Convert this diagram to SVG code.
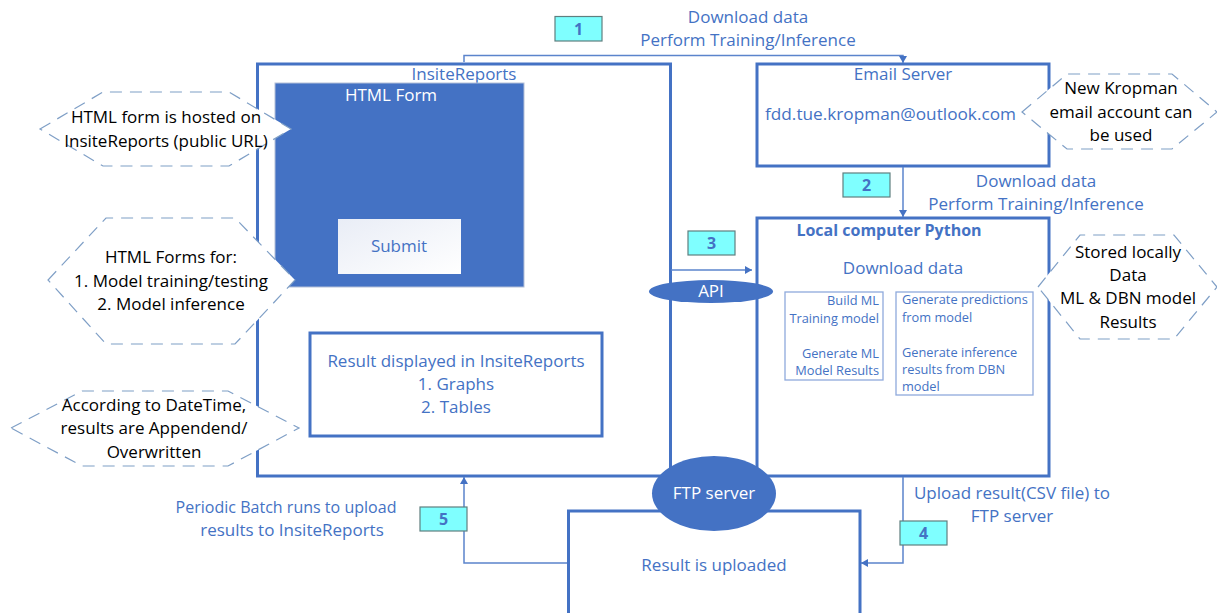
<svg xmlns="http://www.w3.org/2000/svg" width="1217" height="613" viewBox="0 0 1217 613">
<style>
text{font-family:"Open Sans","Noto Sans","Liberation Sans",sans-serif;font-size:17px;fill:#4472c4;text-anchor:middle}
.k{fill:#000}
.w{fill:#fff}
.s{font-size:12.800px}
.r{text-anchor:end}
.l{text-anchor:start}
.b{font-weight:700;font-size:16px}
.box{fill:#fff;stroke:#4472c4;stroke-width:3}
.thin{fill:#fff;stroke:#8faadc;stroke-width:1.3}
.hex{fill:#fff;stroke:#7f9fc6;stroke-width:1.2;stroke-dasharray:12 8}
.tag{fill:#7fffff;stroke:#5f7f7f;stroke-width:1.2}
.c{fill:none;stroke:#5b84cc;stroke-width:1.5}
.n{font-weight:700;font-size:16px}
</style>
<defs>
<marker id="a" markerWidth="8" markerHeight="8" refX="7" refY="4" orient="auto" markerUnits="userSpaceOnUse"><path d="M0 0L7 4L0 8z" fill="#4472c4"/></marker>
<linearGradient id="sub" x1="0" y1="0" x2="1" y2="1"><stop offset="0" stop-color="#e9edf6"/><stop offset="1" stop-color="#fff"/></linearGradient>
</defs>
<g id="insite"><rect class="box" x="257.500" y="64" width="413" height="412"/><text x="464" y="80">InsiteReports</text></g>
<g id="email"><rect class="box" x="757" y="64" width="292" height="102"/><text x="890.500" y="120" textLength="251" lengthAdjust="spacingAndGlyphs">fdd.tue.kropman@outlook.com</text><text x="903" y="80">Email Server</text></g>
<g id="local"><rect class="box" x="757" y="218" width="292" height="258"/><text x="889" y="236" class="b">Local computer Python</text><text x="903" y="274">Download data</text></g>
<g id="form"><rect x="275" y="83" width="249" height="204" fill="#4472c4" stroke="#b4c0d8" stroke-width="1"/><text class="w" x="391" y="101">HTML Form</text></g>
<g id="submit"><rect x="338" y="219" width="123" height="55" fill="url(#sub)"/><text x="399" y="252">Submit</text></g>
<g id="result-display"><rect class="box" x="310" y="333" width="292" height="103"/><text x="456" y="367">Result displayed in InsiteReports</text><text x="456" y="390">1. Graphs</text><text x="456" y="413">2. Tables</text></g>
<g id="build"><rect class="thin" x="785" y="292" width="98" height="88"/><text class="s r" x="879" y="305">Build ML</text><text class="s r" x="879" y="323">Training model</text><text class="s r" x="879" y="358">Generate ML</text><text class="s r" x="879" y="375">Model Results</text></g>
<g id="generate"><rect class="thin" x="896" y="292" width="137" height="103"/><text class="s l" x="902" y="304">Generate predictions</text><text class="s l" x="902" y="322">from model</text><text class="s l" x="902" y="357">Generate inference</text><text class="s l" x="902" y="374">results from DBN</text><text class="s l" x="902" y="391">model</text></g>
<g id="connectors">
<path class="c" d="M464 62V55.500H903V63" marker-end="url(#a)"/>
<path class="c" d="M903 167V217" marker-end="url(#a)"/>
<path class="c" d="M671 270H752" marker-end="url(#a)"/>
<path class="c" d="M903 477V563H861" marker-end="url(#a)"/>
<path class="c" d="M568 563H464V477" marker-end="url(#a)"/>
</g>
<g id="uploaded"><path class="box" d="M568.500 613V511H860V613"/><text x="714" y="571">Result is uploaded</text></g>
<g id="api"><ellipse cx="711" cy="291.500" rx="62" ry="11.500" fill="#4472c4"/><text class="w" x="711" y="297">API</text></g>
<g id="ftp"><ellipse cx="714" cy="493.500" rx="62" ry="37.500" fill="#4472c4"/><text class="w" x="714" y="499">FTP server</text></g>
<g id="hex1"><polygon class="hex" points="40,129 103,92 229,92 291,129 229,166 103,166"/><text class="k" x="166" y="123">HTML form is hosted on</text><text class="k" x="166" y="147">InsiteReports (public URL)</text></g>
<g id="hex2"><polygon class="hex" points="48,280 106,218 235,218 295,280 235,344 106,344"/><text class="k" x="171" y="263">HTML Forms for:</text><text class="k" x="171" y="287">1. Model training/testing</text><text class="k" x="171" y="310">2. Model inference</text></g>
<g id="hex3"><polygon class="hex" points="11,428 82,391 228,391 299,428 228,466 82,466"/><text class="k" x="154" y="411">According to DateTime,</text><text class="k" x="154" y="434">results are Appendend/</text><text class="k" x="154" y="458">Overwritten</text></g>
<g id="hex4"><polygon class="hex" points="1022,112 1067,74 1172,74 1217,112 1172,149 1067,149"/><text class="k" x="1121" y="94">New Kropman</text><text class="k" x="1121" y="118">email account can</text><text class="k" x="1121" y="141">be used</text></g>
<g id="hex5"><polygon class="hex" points="1038,287 1080,235 1174,235 1217,287 1174,339 1080,339"/><text class="k" x="1128" y="258">Stored locally</text><text class="k" x="1128" y="281">Data</text><text class="k" x="1128" y="304">ML &amp; DBN model</text><text class="k" x="1128" y="328">Results</text></g>
<g id="labels">
<text x="748" y="23">Download data</text><text x="748" y="46">Perform Training/Inference</text>
<text x="1036" y="187">Download data</text><text x="1036" y="210">Perform Training/Inference</text>
<text x="1012" y="499">Upload result(CSV file) to</text><text x="1012" y="522">FTP server</text>
<text x="286" y="513" textLength="221" lengthAdjust="spacingAndGlyphs">Periodic Batch runs to upload</text><text x="292" y="536">results to InsiteReports</text>
</g>
<g id="tag1"><rect class="tag" x="555" y="16.500" width="47" height="24.500"/><text class="n" x="578.500" y="35">1</text></g>
<g id="tag2"><rect class="tag" x="843" y="173" width="47" height="24"/><text class="n" x="866.500" y="191">2</text></g>
<g id="tag3"><rect class="tag" x="688" y="231" width="47" height="24"/><text class="n" x="711.500" y="249">3</text></g>
<g id="tag4"><rect class="tag" x="900" y="521" width="47" height="24"/><text class="n" x="923.500" y="539">4</text></g>
<g id="tag5"><rect class="tag" x="420" y="507" width="47" height="24"/><text class="n" x="443.500" y="525">5</text></g>
</svg>
